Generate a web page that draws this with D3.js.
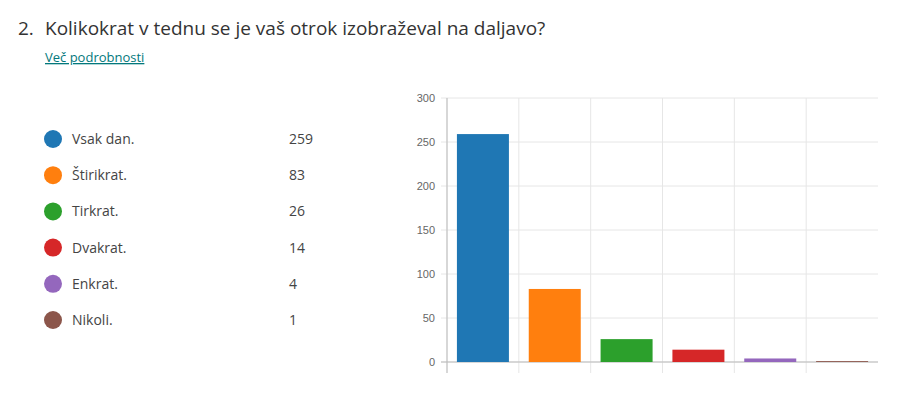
<!DOCTYPE html>
<html>
<head>
  <meta charset="UTF-8">
  <title>Kolikokrat v tednu</title>
  <script src="https://d3js.org/d3.v7.min.js"></script>
  <style>
    body { margin: 0; background: #fff; font-family: "Open Sans", "Noto Sans", sans-serif; }
    .title { font-size: 19px; fill: #333; }
    .link { font-size: 13px; fill: #03787c; text-decoration: underline; }
    .legend-label { font-size: 14px; fill: #444; }
    .axis text { font-size: 11px; fill: #666; }
    .grid line { stroke: #e6e6e6; }
  </style>
</head>
<body>
  <svg width="900" height="394"></svg>
  <script>
    const categories = ["Vsak dan.", "Štirikrat.", "Tirkrat.", "Dvakrat.", "Enkrat.", "Nikoli."];
    const counts = [259, 83, 26, 14, 4, 1];
    const colors = ["#1f77b4", "#ff7f0e", "#2ca02c", "#d62728", "#9467bd", "#8c564b"];
    const yTicks = [0, 50, 100, 150, 200, 250, 300];

    const svg = d3.select("svg");

    svg.append("text").attr("class", "title")
      .attr("x", 18).attr("y", 35).text("2.");
    svg.append("text").attr("class", "title")
      .attr("x", 45).attr("y", 35).text("Kolikokrat v tednu se je vaš otrok izobraževal na daljavo?");
    svg.append("text").attr("class", "link")
      .attr("x", 45).attr("y", 62).text("Več podrobnosti");

    // legend
    const legY = d3.scalePoint().domain(categories).range([139, 320]);
    const leg = svg.append("g").selectAll("g")
      .data(categories)
      .enter().append("g")
      .attr("transform", d => `translate(0,${legY(d)})`);
    leg.append("circle").attr("cx", 53).attr("r", 9).attr("fill", (d, i) => colors[i]);
    leg.append("text").attr("class", "legend-label")
      .attr("x", 72).attr("dy", "0.35em").text(d => d);
    leg.append("text").attr("class", "legend-label")
      .attr("x", 289).attr("dy", "0.35em").text((d, i) => counts[i]);

    // chart
    const pLeft = 447, pRight = 878, pTop = 98, pBottom = 362;
    const x = d3.scaleBand().domain(categories).range([pLeft, pRight]).paddingInner(0).paddingOuter(0);
    const y = d3.scaleLinear().domain([0, 300]).range([pBottom, pTop]);

    const grid = svg.append("g").attr("class", "grid");
    grid.selectAll(".h").data(yTicks).enter().append("line")
      .attr("x1", pLeft - 6).attr("x2", pRight)
      .attr("y1", d => y(d)).attr("y2", d => y(d));
    grid.selectAll(".v").data(categories).enter().append("line")
      .attr("x1", d => x(d)).attr("x2", d => x(d))
      .attr("y1", pTop).attr("y2", pBottom + 11);

    svg.append("line")
      .attr("x1", pLeft).attr("x2", pLeft).attr("y1", pTop).attr("y2", pBottom + 11)
      .attr("stroke", "#bbb");
    svg.append("line")
      .attr("x1", pLeft - 6).attr("x2", pRight).attr("y1", pBottom).attr("y2", pBottom)
      .attr("stroke", "#bbb");

    const yAxis = svg.append("g").attr("class", "axis")
      .attr("transform", `translate(${pLeft - 6},0)`)
      .call(d3.axisLeft(y).tickValues(yTicks).tickSize(0).tickPadding(6));
    yAxis.select(".domain").remove();

    const bw = 52;
    svg.append("g").selectAll("rect")
      .data(counts)
      .enter().append("rect")
      .attr("x", (d, i) => x(categories[i]) + (x.bandwidth() - bw) / 2)
      .attr("y", d => y(d))
      .attr("width", bw)
      .attr("height", d => y(0) - y(d))
      .attr("fill", (d, i) => colors[i]);
  </script>
</body>
</html>
